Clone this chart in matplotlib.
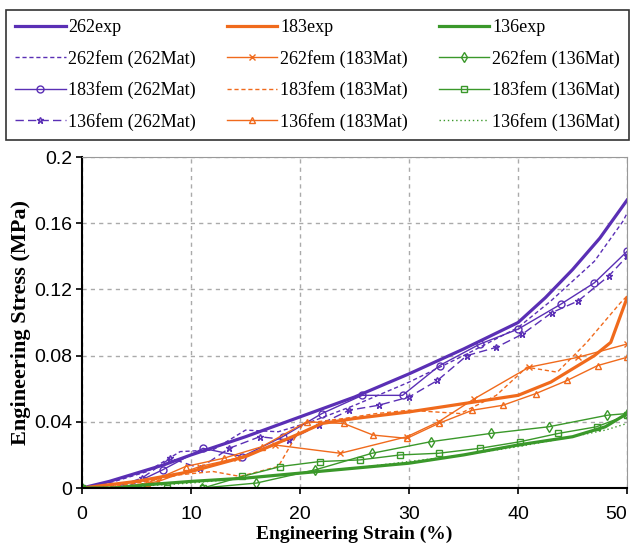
import matplotlib
matplotlib.use('Agg')
import matplotlib.pyplot as plt

# colours for the three materials
PURPLE = '#5a2fb5'
ORANGE = '#f06a1c'
GREEN = '#3a982a'

# 262 series
x_262exp = [0, 2.5, 5, 7.5, 10, 15, 20, 25, 30, 35, 40, 42.5, 45, 47.5, 50]
y_262exp = [0, 0.004, 0.009, 0.014, 0.020, 0.031, 0.043, 0.055, 0.069, 0.084, 0.100, 0.115, 0.132, 0.151, 0.174]
x_262fem_262 = [0, 3, 6, 9, 12, 15, 18, 21, 25, 30, 35, 40, 43, 47, 49.6, 50]
y_262fem_262 = [0, 0.004, 0.010, 0.022, 0.023, 0.035, 0.034, 0.040, 0.050, 0.064, 0.080, 0.097, 0.113, 0.137, 0.161, 0.166]
x_183fem_262 = [0, 3.9, 7.4, 11.1, 14.7, 18.4, 22, 25.7, 29.4, 32.8, 36.5, 40, 43.9, 47, 50]
y_183fem_262 = [0, 0, 0.011, 0.024, 0.019, 0.031, 0.045, 0.056, 0.056, 0.074, 0.087, 0.096, 0.111, 0.124, 0.143]
x_136fem_262 = [0, 2.8, 5.5, 8.1, 10.8, 13.5, 16.3, 19, 21.7, 24.5, 27.2, 30, 32.6, 35.3, 38, 40.4, 43.1, 45.5, 48.3, 50]
y_136fem_262 = [0, 0, 0.006, 0.018, 0.012, 0.024, 0.031, 0.029, 0.038, 0.047, 0.050, 0.055, 0.065, 0.080, 0.085, 0.093, 0.106, 0.113, 0.128, 0.140]

# 183 series
x_183exp = [0, 5, 10, 15, 20, 22, 25, 30, 35, 40, 43, 45, 47, 48.5, 50]
y_183exp = [0, 0.004, 0.010, 0.019, 0.033, 0.039, 0.042, 0.046, 0.051, 0.056, 0.064, 0.072, 0.080, 0.088, 0.115]
x_262fem_183 = [0, 3.5, 7, 10.8, 14.2, 17.7, 23.7, 29.8, 32.7, 36, 41, 45.5, 50]
y_262fem_183 = [0, 0, 0.004, 0.013, 0.018, 0.026, 0.021, 0.031, 0.040, 0.054, 0.073, 0.079, 0.087]
x_183fem_183 = [0, 3, 6, 9, 12, 14.5, 18, 20.3, 24, 27, 30, 34.7, 38, 40.8, 43.6, 46.3, 49.4, 50]
y_183fem_183 = [0, 0.001, 0.004, 0.008, 0.010, 0.007, 0.013, 0.039, 0.042, 0.045, 0.047, 0.045, 0.056, 0.073, 0.070, 0.088, 0.112, 0.116]
x_136fem_183 = [0, 3, 6, 9.5, 13, 16.5, 20.6, 24, 26.7, 29.8, 32.7, 35.8, 38.6, 41.6, 44.5, 47.3, 50]
y_136fem_183 = [0, 0, 0.003, 0.013, 0.018, 0.025, 0.040, 0.039, 0.032, 0.030, 0.039, 0.047, 0.050, 0.057, 0.065, 0.074, 0.079]

# 136 series
x_136exp = [0, 3, 6, 10, 15, 20, 25, 30, 35, 40, 45, 48, 50]
y_136exp = [0, 0, 0.002, 0.004, 0.006, 0.009, 0.012, 0.015, 0.020, 0.026, 0.031, 0.037, 0.045]
x_262fem_136 = [0, 5.5, 11, 16, 21.4, 26.6, 32, 37.5, 42.8, 48.2, 50]
y_262fem_136 = [0, 0, 0, 0.003, 0.011, 0.021, 0.028, 0.033, 0.037, 0.044, 0.045]
x_183fem_136 = [0, 4.4, 7.8, 11.1, 14.7, 18.2, 21.8, 25.5, 29.2, 32.7, 36.5, 40.2, 43.7, 47.2, 50]
y_183fem_136 = [0, 0, 0, 0, 0.007, 0.013, 0.016, 0.017, 0.020, 0.021, 0.024, 0.028, 0.033, 0.037, 0.044]
x_136fem_136 = [0, 5, 10, 15, 20, 25, 30, 35, 40, 45, 48, 50]
y_136fem_136 = [0, 0.001, 0.003, 0.006, 0.009, 0.012, 0.016, 0.020, 0.025, 0.031, 0.035, 0.039]

x_ticks = [0, 10, 20, 30, 40, 50]
y_ticks = [0, 0.04, 0.08, 0.12, 0.16, 0.2]
y_tick_labels = ['0', '0.04', '0.08', '0.12', '0.16', '0.2']

fig = plt.figure(figsize=(6.36, 5.51), dpi=100)
ax = fig.add_axes([0.129, 0.1143, 0.857, 0.6007])

thick = 2.3
thin = 1.0
ms = 5

handles = []
# purple column
handles += ax.plot(x_262exp, y_262exp, color=PURPLE, lw=thick, label='262exp')
handles += ax.plot(x_262fem_262, y_262fem_262, color=PURPLE, lw=thin, ls=(0, (3, 2)), label='262fem (262Mat)')
handles += ax.plot(x_183fem_262, y_183fem_262, color=PURPLE, lw=thin, marker='o', ms=ms, mfc='none', label='183fem (262Mat)')
handles += ax.plot(x_136fem_262, y_136fem_262, color=PURPLE, lw=thin, ls=(0, (6, 3)), marker='*', ms=ms, mfc='none', label='136fem (262Mat)')
# orange column
handles += ax.plot(x_183exp, y_183exp, color=ORANGE, lw=thick, label='183exp')
handles += ax.plot(x_262fem_183, y_262fem_183, color=ORANGE, lw=thin, marker='x', ms=ms - 1, label='262fem (183Mat)')
handles += ax.plot(x_183fem_183, y_183fem_183, color=ORANGE, lw=thin, ls=(0, (3, 2)), label='183fem (183Mat)')
handles += ax.plot(x_136fem_183, y_136fem_183, color=ORANGE, lw=thin, marker='^', ms=ms, mfc='none', label='136fem (183Mat)')
# green column
handles += ax.plot(x_136exp, y_136exp, color=GREEN, lw=thick, label='136exp')
handles += ax.plot(x_262fem_136, y_262fem_136, color=GREEN, lw=thin, marker='d', ms=ms, mfc='none', label='262fem (136Mat)')
handles += ax.plot(x_183fem_136, y_183fem_136, color=GREEN, lw=thin, marker='s', ms=ms, mfc='none', label='183fem (136Mat)')
handles += ax.plot(x_136fem_136, y_136fem_136, color=GREEN, lw=thin, ls=(0, (1, 2)), label='136fem (136Mat)')

ax.set_xlim(0, 50)
ax.set_ylim(0, 0.2)
ax.set_xticks(x_ticks)
ax.set_yticks(y_ticks)
ax.set_yticklabels(y_tick_labels)
ax.grid(True, color='#aaaaaa', ls=(0, (3, 3)), lw=1)
ax.tick_params(direction='out', length=4, width=1.2, labelsize=14, pad=3)
ax.tick_params(axis='x', pad=9)
for lab in ax.get_xticklabels() + ax.get_yticklabels():
    lab.set_family(['Liberation Sans Narrow', 'Liberation Sans'])
# keep the last x label inside the canvas
ax.get_xticklabels()[-1].set_horizontalalignment('right')
ax.get_xticklabels()[-1].set_x(50.8)

ax.spines['left'].set_linewidth(1.5)
ax.spines['bottom'].set_linewidth(1.5)
ax.spines['top'].set_color('#999999')
ax.spines['right'].set_color('#999999')

ax.set_xlabel('Engineering Strain (%)', family='Liberation Serif', fontweight='bold', fontsize=14, labelpad=2)
ax.set_ylabel('Engineering Stress (MPa)', family='Liberation Serif', fontweight='bold', fontsize=16, labelpad=2)

leg = fig.legend(handles=handles, ncol=3, loc='center', mode='expand',
                 bbox_to_anchor=(6 / 636, 1 - 141 / 551, 623 / 636, 132 / 551),
                 prop={'family': 'Liberation Serif', 'size': 13},
                 frameon=True, fancybox=False, edgecolor='black',
                 handlelength=2.8, handletextpad=0.15, labelspacing=0.75,
                 borderaxespad=0, borderpad=0.5, columnspacing=1.2)
leg.get_frame().set_linewidth(1.2)

plt.savefig('out.png', dpi=100)
plt.close()
